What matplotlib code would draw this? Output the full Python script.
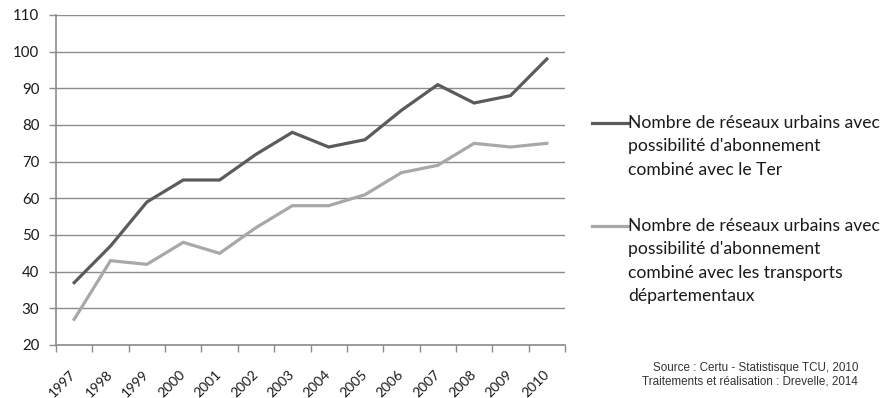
import matplotlib
matplotlib.use("Agg")
import matplotlib.pyplot as plt
from matplotlib.lines import Line2D

years = ["1997", "1998", "1999", "2000", "2001", "2002", "2003",
         "2004", "2005", "2006", "2007", "2008", "2009", "2010"]
ter = [37, 47, 59, 65, 65, 72, 78, 74, 76, 84, 91, 86, 88, 98]
departement = [27, 43, 42, 48, 45, 52, 58, 58, 61, 67, 69, 75, 74, 75]

label_ter = ["Nombre de réseaux urbains avec", "possibilité d'abonnement",
             "combiné avec le Ter"]
label_dep = ["Nombre de réseaux urbains avec", "possibilité d'abonnement",
             "combiné avec les transports", "départementaux"]

DARK = "#5b5b5b"
LIGHT = "#a8a8a8"
GRID = "#8c8c8c"
FONT = "Lato"

W, H = 885, 398
fig = plt.figure(figsize=(W / 100, H / 100), dpi=100)
ax = fig.add_axes([56 / W, 1 - 345 / H, (565 - 56) / W, (345 - 15) / H])

x = list(range(len(years)))
ax.plot(x, ter, color=DARK, lw=2.3, solid_joinstyle="miter")
ax.plot(x, departement, color=LIGHT, lw=2.3, solid_joinstyle="miter")

ax.set_xlim(-0.5, len(years) - 0.5)
ax.set_ylim(20, 110)
ax.set_yticks(range(20, 111, 10))
ax.yaxis.grid(True, color=GRID, lw=1)
ax.set_axisbelow(True)

# category labels sit between the tick marks
ax.set_xticks([i - 0.5 for i in range(len(years) + 1)])
ax.set_xticklabels([])
ax.set_xticks(x, minor=True)
ax.set_xticklabels(years, minor=True, rotation=45, ha="right", va="center",
                   rotation_mode="anchor", fontsize=10, family=FONT,
                   color="#1a1a1a")
ax.tick_params(axis="x", which="major", length=5, color=GRID, width=1)
ax.tick_params(axis="x", which="minor", length=0, pad=19.5)
ax.tick_params(axis="y", length=5, color=GRID, width=1, labelsize=10.8,
               labelcolor="#1a1a1a", pad=7)
for lab in ax.get_yticklabels():
    lab.set_family(FONT)

for side in ["top", "right"]:
    ax.spines[side].set_visible(False)
for side in ["left", "bottom"]:
    ax.spines[side].set_color(GRID)
    ax.spines[side].set_linewidth(1.2)

# legend drawn by hand, one sample line per entry
for y0, color, lines in [(123, DARK, label_ter), (226, LIGHT, label_dep)]:
    fig.add_artist(Line2D([592 / W, 628 / W], [1 - y0 / H, 1 - y0 / H],
                          color=color, lw=2.3))
    for i, line in enumerate(lines):
        fig.text(628 / W, 1 - (y0 + 5 + i * 23.3) / H, line, ha="left",
                 va="baseline", fontsize=12.6, family=FONT, color="#1a1a1a")

fig.text(858 / W, 1 - 368 / H, "Source : Certu - Statistisque TCU, 2010",
         ha="right", va="center", fontsize=8.4, family="Liberation Sans",
         color="#333333")
fig.text(858 / W, 1 - 382 / H, "Traitements et réalisation : Drevelle, 2014",
         ha="right", va="center", fontsize=8.4, family="Liberation Sans",
         color="#333333")

fig.savefig("out.png", dpi=100)
